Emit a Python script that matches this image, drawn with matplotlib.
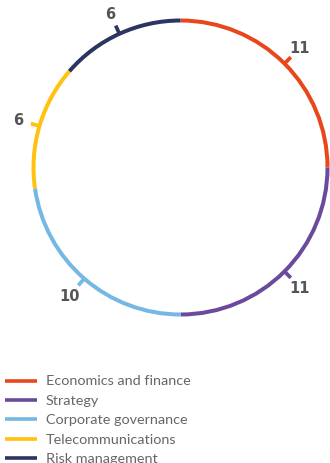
import numpy as np
import matplotlib
matplotlib.use("Agg")
import matplotlib.pyplot as plt

# data
categories = ["Economics and finance", "Strategy", "Corporate governance",
              "Telecommunications", "Risk management"]
values = [11, 11, 10, 6, 6]
colors = ["#E8461C", "#6B4A9E", "#74B8E3", "#FFC20E", "#2B3560"]

W, H = 330, 464
fig = plt.figure(figsize=(W / 100, H / 100), dpi=100)
ax = fig.add_axes([0, 0, 1, 1])

# ring centre / size in pixels (y up)
cx, cy = 180.5, H - 168.5
r_out = 149
ring_w = 4

ax.pie(values, colors=colors, startangle=90, counterclock=False,
       radius=r_out, center=(cx, cy), frame=True,
       wedgeprops=dict(width=ring_w, linewidth=0))

# ticks and value labels at the middle of each segment
total = sum(values)
cum = np.cumsum([0] + values)
mids = (cum[:-1] + cum[1:]) / 2 / total * 2 * np.pi  # clockwise from top
for v, th, c in zip(values, mids, colors):
    s, co = np.sin(th), np.cos(th)
    r0, r1 = r_out - 3, r_out + 7
    ax.plot([cx + r0 * s, cx + r1 * s], [cy + r0 * co, cy + r1 * co],
            color=c, lw=2.7, solid_capstyle="butt")
    rl = 169
    ax.text(cx + rl * s, cy + rl * co, str(v), ha="center", va="center",
            fontsize=10.5, fontweight="bold", color="#555555",
            family="DejaVu Sans")

# legend, drawn by hand
y0 = H - 381.5
step = 19.4
for i, (name, c) in enumerate(zip(categories, colors)):
    y = y0 - i * step
    ax.plot([5, 37], [y, y], color=c, lw=2.6, solid_capstyle="butt")
    ax.text(46, y, name, ha="left", va="center", fontsize=10.4,
            color="#666666", family="Lato")

ax.set_xlim(0, W)
ax.set_ylim(0, H)
ax.set_aspect("auto")
ax.axis("off")

fig.savefig("out.png", dpi=100)
